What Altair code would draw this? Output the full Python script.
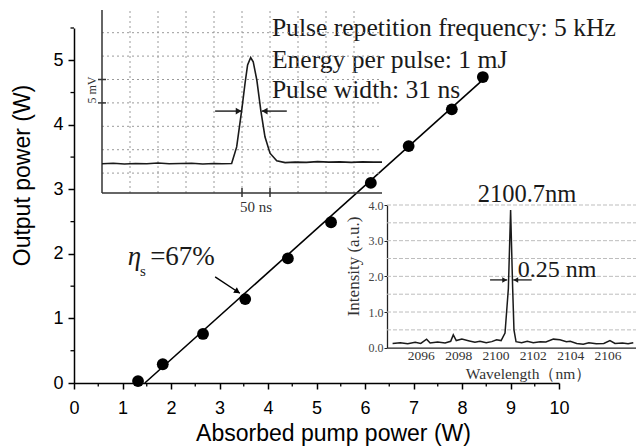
import altair as alt
import pandas as pd

# ---------------- main chart data ----------------
pump_power = [1.32, 1.83, 2.66, 3.53, 4.41, 5.30, 6.12, 6.90, 7.79, 8.43]
output_power = [0.03, 0.29, 0.76, 1.30, 1.93, 2.49, 3.10, 3.67, 4.24, 4.74]
fit_pump = [1.46, 8.48]
fit_output = [0.0, 4.73]
x_major = list(range(0, 11))
x_minor = [0.5, 1.5, 2.5, 3.5, 4.5, 5.5, 6.5, 7.5, 8.5, 9.5]
y_major = [0, 1, 2, 3, 4, 5]
y_minor = [0.5, 1.5, 2.5, 3.5, 4.5, 5.5]

info_text = ["Pulse repetition frequency: 5 kHz", "Energy per pulse: 1 mJ", "Pulse width: 31 ns"]
info_x = [4.08, 4.08, 4.08]
info_y = [5.37, 4.88, 4.41]

eta_text = ["\u03b7", "s", "=67%"]
eta_x = [1.11, 1.36, 1.57]
eta_y = [1.83, 1.66, 1.83]
eta_arrow_x = [2.91, 3.42]
eta_arrow_y = [1.645, 1.39]
eta_head_x = [3.37]
eta_head_y = [1.416]

# ---------------- pulse inset (divisions) ----------------
pulse_t = [0, 0.4, 0.8, 1.2, 1.6, 2.0, 2.4, 2.8, 3.2, 3.6, 4.0, 4.3, 4.63, 4.81, 4.99,
           5.11, 5.20, 5.31, 5.40, 5.53, 5.67, 5.82, 6.00, 6.24, 6.54, 6.9, 7.3, 7.7,
           8.1, 8.5, 8.9, 9.3, 9.7, 10.0]
pulse_v = [1.40, 1.42, 1.39, 1.41, 1.40, 1.43, 1.40, 1.41, 1.42, 1.39, 1.41, 1.40, 1.41,
           2.12, 3.69, 4.85, 5.62, 5.94, 5.76, 4.97, 3.69, 2.55, 1.85, 1.53, 1.45, 1.47,
           1.46, 1.49, 1.47, 1.48, 1.46, 1.48, 1.47, 1.47]
pulse_vgrid = [1, 2, 3, 4, 5, 6, 7, 8, 9]
pulse_hgrid = [1, 2, 3, 4, 5, 6, 7]
pulse_t_range = [0, 10]
pulse_v_range = [0.15, 7.97]
pulse_t_ticks = [5, 6]
pulse_v_ticks = [4, 5]
pulse_arrow_l = [4.04, 4.99]
pulse_arrow_r = [5.70, 6.60]
pulse_arrow_v = 3.65
pulse_head_t = [4.88, 5.81]
pulse_head_shape = ["triangle-right", "triangle-left"]

# ---------------- spectrum inset ----------------
spec_wl = [2094.49, 2094.9, 2095.3, 2095.7, 2096.0, 2096.31, 2096.5, 2096.9, 2097.3, 2097.6,
           2097.74, 2097.9, 2098.2, 2098.6, 2098.9, 2099.17, 2099.5, 2099.8, 2100.06, 2100.3,
           2100.51, 2100.69, 2100.81, 2100.92, 2100.99, 2101.10, 2101.4, 2101.7, 2102.02,
           2102.4, 2102.7, 2103.10, 2103.45, 2103.8, 2104.0, 2104.35, 2104.7, 2105.0, 2105.4,
           2105.8, 2106.13, 2106.4, 2106.8, 2107.1, 2107.38]
spec_int = [0.12, 0.14, 0.11, 0.15, 0.12, 0.24, 0.13, 0.16, 0.13, 0.18,
            0.36, 0.20, 0.24, 0.19, 0.15, 0.18, 0.14, 0.17, 0.22, 0.20,
            0.41, 1.66, 3.86, 1.66, 0.50, 0.17, 0.14, 0.18, 0.14,
            0.17, 0.16, 0.24, 0.22, 0.17, 0.18, 0.12, 0.10, 0.14, 0.11,
            0.12, 0.20, 0.12, 0.13, 0.11, 0.14]
spec_grid = [0.5, 1.0, 1.5, 2.0, 2.5, 3.0, 3.5, 4.0]
spec_xticks = [2096, 2098, 2100, 2102, 2104, 2106]
spec_yticks = [0, 1, 2, 3, 4]
spec_wl_range = [2094.19, 2107.9]
spec_arrow_l = [2099.71, 2100.63]
spec_arrow_r = [2100.95, 2101.94]
spec_arrow_i = 1.90
spec_head_wl = [2100.49, 2101.09]
spec_head_shape = ["triangle-right", "triangle-left"]
spec_text = ["2100.7nm", "0.25 nm"]
spec_text_wl = [2101.69, 2101.19]
spec_text_i = [4.09, 1.98]

# ---------------- layout ----------------
W, H = 485, 355
SANS = "Liberation Sans"
SERIF = "Liberation Serif"


def XS():
    return alt.Scale(domain=[0, 10], nice=False, zero=False)


def YS():
    return alt.Scale(domain=[0, 5.5], nice=False, zero=False)


def PXS():
    return alt.Scale(domain=pulse_t_range, range=[28, 308], nice=False, zero=False)


def PYS():
    return alt.Scale(domain=pulse_v_range, range=[165, -18], nice=False, zero=False)


def SXS():
    return alt.Scale(domain=spec_wl_range, range=[313, 569], nice=False, zero=False)


def SYS():
    return alt.Scale(domain=[0, 4], range=[319.7, 177], nice=False, zero=False)


X_AXIS = alt.Axis(title="Absorbed pump power (W)", values=x_major, format="d", grid=False,
                  orient="bottom",
                  domainColor="black", domainWidth=1.5, tickColor="black", tickWidth=1.5,
                  tickSize=6, labelFont=SANS, labelFontSize=18, labelColor="black",
                  labelPadding=10, labelFlush=False, labelOverlap=False,
                  titleFont=SANS, titleFontSize=23, titleFontWeight="normal", titleColor="black",
                  titleX=259, titleY=57, titleAlign="center", titleBaseline="alphabetic")
Y_AXIS = alt.Axis(title="Output power (W)", values=y_major, format="d", grid=False,
                  orient="left",
                  domainColor="black", domainWidth=1.5, tickColor="black", tickWidth=1.5,
                  tickSize=6, labelFont=SANS, labelFontSize=18, labelColor="black",
                  labelPadding=5, labelFlush=False, labelOverlap=False,
                  titleFont=SANS, titleFontSize=23, titleFontWeight="normal", titleColor="black",
                  titleX=-45, titleY=147, titleAngle=270, titleAlign="center",
                  titleBaseline="alphabetic")
SX_AXIS = alt.Axis(orient="bottom", offset=-35.3, values=spec_xticks, format="d", grid=False,
                   ticks=False, domainColor="#222", domainWidth=1.3, labelFont=SERIF,
                   labelFontSize=13.5, labelColor="#333", labelPadding=1, labelFlush=False,
                   labelOverlap=False, title="Wavelength\uff08nm\uff09", titleFont=SERIF,
                   titleFontSize=15.5, titleFontWeight="normal", titleColor="#333",
                   titleX=454, titleY=31, titleAlign="center", titleBaseline="alphabetic")
SY_AXIS = alt.Axis(orient="left", offset=-313, values=spec_yticks, format=".1f", grid=False,
                   tickSize=3, tickColor="#222", domainColor="#222", domainWidth=1.3,
                   labelFont=SERIF, labelFontSize=12, labelColor="#444", labelPadding=1,
                   labelFlush=False, labelOverlap=False, title="Intensity (a.u.)",
                   titleFont=SERIF, titleFontSize=17, titleFontWeight="normal",
                   titleColor="#333", titleX=-29, titleY=238, titleAngle=270,
                   titleAlign="center", titleBaseline="alphabetic")


def mX(f, axis=None):
    return alt.X(f, type="quantitative", scale=XS(), axis=axis)


def mY(f, axis=None):
    return alt.Y(f, type="quantitative", scale=YS(), axis=axis)


def pX(f):
    return alt.X(f, type="quantitative", scale=PXS(), axis=None)


def pY(f):
    return alt.Y(f, type="quantitative", scale=PYS(), axis=None)


def sX(f, axis=None):
    return alt.X(f, type="quantitative", scale=SXS(), axis=axis)


def sY(f, axis=None):
    return alt.Y(f, type="quantitative", scale=SYS(), axis=axis)


# ---------------- main layers ----------------
fit_df = pd.DataFrame({"x": fit_pump, "y": fit_output})
pts_df = pd.DataFrame({"x": pump_power, "y": output_power})

fit = alt.Chart(fit_df).mark_line(color="black", strokeWidth=1.6).encode(
    x=mX("x", X_AXIS), y=mY("y", Y_AXIS))
pts = alt.Chart(pts_df).mark_circle(size=140, color="black", opacity=1).encode(
    x=mX("x"), y=mY("y"))
minx = alt.Chart(pd.DataFrame({"x": x_minor})).mark_rule(color="black", strokeWidth=1.3).encode(
    x=mX("x"), y=alt.value(H), y2=alt.value(H + 3.5))
miny = alt.Chart(pd.DataFrame({"y": y_minor})).mark_rule(color="black", strokeWidth=1.3).encode(
    y=mY("y"), x=alt.value(0), x2=alt.value(-3.5))

info = alt.Chart(pd.DataFrame({"x": info_x, "y": info_y, "t": info_text})).mark_text(
    font=SERIF, fontSize=25.6, align="left", baseline="alphabetic", color="#1a1a1a").encode(
    x=mX("x"), y=mY("y"), text="t:N")

eta_df = pd.DataFrame({"x": eta_x, "y": eta_y, "t": eta_text})
eta1 = alt.Chart(eta_df.iloc[[0]]).mark_text(
    font=SERIF, fontSize=27, fontStyle="italic", align="left", baseline="alphabetic",
    color="#1a1a1a").encode(x=mX("x"), y=mY("y"), text="t:N")
eta2 = alt.Chart(eta_df.iloc[[1]]).mark_text(
    font=SERIF, fontSize=15, align="left", baseline="alphabetic",
    color="#1a1a1a").encode(x=mX("x"), y=mY("y"), text="t:N")
eta3 = alt.Chart(eta_df.iloc[[2]]).mark_text(
    font=SERIF, fontSize=27, align="left", baseline="alphabetic",
    color="#1a1a1a").encode(x=mX("x"), y=mY("y"), text="t:N")
eta_arrow = alt.Chart(pd.DataFrame({"x": eta_arrow_x, "y": eta_arrow_y})).mark_line(
    color="black", strokeWidth=1.4).encode(x=mX("x"), y=mY("y"))
eta_head = alt.Chart(pd.DataFrame({"x": eta_head_x, "y": eta_head_y})).mark_point(
    shape="triangle-right", filled=True, size=45, color="black", opacity=1,
    angle=33.6).encode(x=mX("x"), y=mY("y"))

main_layers = [fit, pts, minx, miny, info, eta1, eta2, eta3, eta_arrow, eta_head]

# ---------------- pulse inset layers ----------------
grid_style = dict(color="#9a9a9a", strokeWidth=1, strokeDash=[2, 3])
p_vgrid = alt.Chart(pd.DataFrame({"t": pulse_vgrid, "v0": pulse_v_range[0],
                                  "v1": pulse_v_range[1]})).mark_rule(**grid_style).encode(
    x=pX("t"), y=pY("v0"), y2="v1")
p_hgrid = alt.Chart(pd.DataFrame({"v": pulse_hgrid, "t0": pulse_t_range[0],
                                  "t1": pulse_t_range[1]})).mark_rule(**grid_style).encode(
    y=pY("v"), x=pX("t0"), x2="t1")
p_frame_y = alt.Chart(pd.DataFrame({"t": [pulse_t_range[0]], "v0": [pulse_v_range[0]],
                                    "v1": [pulse_v_range[1]]})).mark_rule(
    color="#333", strokeWidth=1.5).encode(x=pX("t"), y=pY("v0"), y2="v1")
p_frame_x = alt.Chart(pd.DataFrame({"v": [pulse_v_range[0]], "t0": [pulse_t_range[0]],
                                    "t1": [pulse_t_range[1]]})).mark_rule(
    color="#333", strokeWidth=1.5).encode(y=pY("v"), x=pX("t0"), x2="t1")
p_yt = alt.Chart(pd.DataFrame({"v": pulse_v_ticks})).mark_rule(color="#333", strokeWidth=1.5).encode(
    y=pY("v"), x=alt.value(24), x2=alt.value(32))
p_xt = alt.Chart(pd.DataFrame({"t": pulse_t_ticks})).mark_rule(color="#333", strokeWidth=1.5).encode(
    x=pX("t"), y=alt.value(160), y2=alt.value(169))
p_trace = alt.Chart(pd.DataFrame({"t": pulse_t, "v": pulse_v})).mark_line(
    color="#1a1a1a", strokeWidth=1.6).encode(x=pX("t"), y=pY("v"))
p_arrows = alt.Chart(pd.DataFrame({"t0": [pulse_arrow_l[0], pulse_arrow_r[0]],
                                   "t1": [pulse_arrow_l[1], pulse_arrow_r[1]],
                                   "v": [pulse_arrow_v, pulse_arrow_v]})).mark_rule(
    color="#1a1a1a", strokeWidth=1.4).encode(x=pX("t0"), x2="t1", y=pY("v"))
p_heads = alt.Chart(pd.DataFrame({"t": pulse_head_t, "v": [pulse_arrow_v] * 2,
                                  "s": pulse_head_shape})).mark_point(
    filled=True, size=45, color="#1a1a1a", opacity=1).encode(
    x=pX("t"), y=pY("v"), shape=alt.Shape("s:N", scale=None, legend=None))
p_mv = alt.Chart(pd.DataFrame({"t": [-0.21], "v": [4.55], "s": ["5 mV"]})).mark_text(
    font=SERIF, fontSize=12, angle=270, align="center", baseline="alphabetic",
    color="#333").encode(x=pX("t"), y=pY("v"), text="s:N")
p_ns = alt.Chart(pd.DataFrame({"t": [5.5], "v": [-0.65], "s": ["50 ns"]})).mark_text(
    font=SERIF, fontSize=15, align="center", baseline="alphabetic",
    color="#333").encode(x=pX("t"), y=pY("v"), text="s:N")

pulse_layers = [p_vgrid, p_hgrid, p_frame_y, p_frame_x, p_yt, p_xt, p_trace,
                p_arrows, p_heads, p_mv, p_ns]

# ---------------- spectrum inset layers ----------------
s_grid = alt.Chart(pd.DataFrame({"i": spec_grid, "w0": spec_wl_range[0],
                                 "w1": spec_wl_range[1]})).mark_rule(
    color="#bdbdbd", strokeWidth=1, strokeDash=[4, 2]).encode(
    y=sY("i"), x=sX("w0"), x2="w1")
s_trace = alt.Chart(pd.DataFrame({"w": spec_wl, "i": spec_int})).mark_line(
    color="#1a1a1a", strokeWidth=1.5).encode(x=sX("w", SX_AXIS), y=sY("i", SY_AXIS))
s_arrows = alt.Chart(pd.DataFrame({"w0": [spec_arrow_l[0], spec_arrow_r[0]],
                                   "w1": [spec_arrow_l[1], spec_arrow_r[1]],
                                   "i": [spec_arrow_i, spec_arrow_i]})).mark_rule(
    color="#1a1a1a", strokeWidth=1.3).encode(x=sX("w0"), x2="w1", y=sY("i"))
s_heads = alt.Chart(pd.DataFrame({"w": spec_head_wl, "i": [spec_arrow_i] * 2,
                                  "s": spec_head_shape})).mark_point(
    filled=True, size=30, color="#1a1a1a", opacity=1).encode(
    x=sX("w"), y=sY("i"), shape=alt.Shape("s:N", scale=None, legend=None))
s_t1 = alt.Chart(pd.DataFrame({"w": [spec_text_wl[0]], "i": [spec_text_i[0]],
                               "s": [spec_text[0]]})).mark_text(
    font=SERIF, fontSize=24.5, align="center", baseline="alphabetic", color="#1a1a1a").encode(
    x=sX("w"), y=sY("i"), text="s:N")
s_t2 = alt.Chart(pd.DataFrame({"w": [spec_text_wl[1]], "i": [spec_text_i[1]],
                               "s": [spec_text[1]]})).mark_text(
    font=SERIF, fontSize=24, align="left", baseline="alphabetic", color="#1a1a1a").encode(
    x=sX("w"), y=sY("i"), text="s:N")

spec_layers = [s_grid, s_trace, s_arrows, s_heads, s_t1, s_t2]

chart = alt.layer(*main_layers, *pulse_layers, *spec_layers).resolve_scale(
    x="independent", y="independent").properties(
    width=W, height=H,
    autosize=alt.AutoSizeParams(type="none"),
    padding={"left": 66, "top": 20, "right": 77, "bottom": 64},
    background="white",
).configure_view(strokeWidth=0)

chart.save("out.html", embed_options={"renderer": "svg", "actions": False})
